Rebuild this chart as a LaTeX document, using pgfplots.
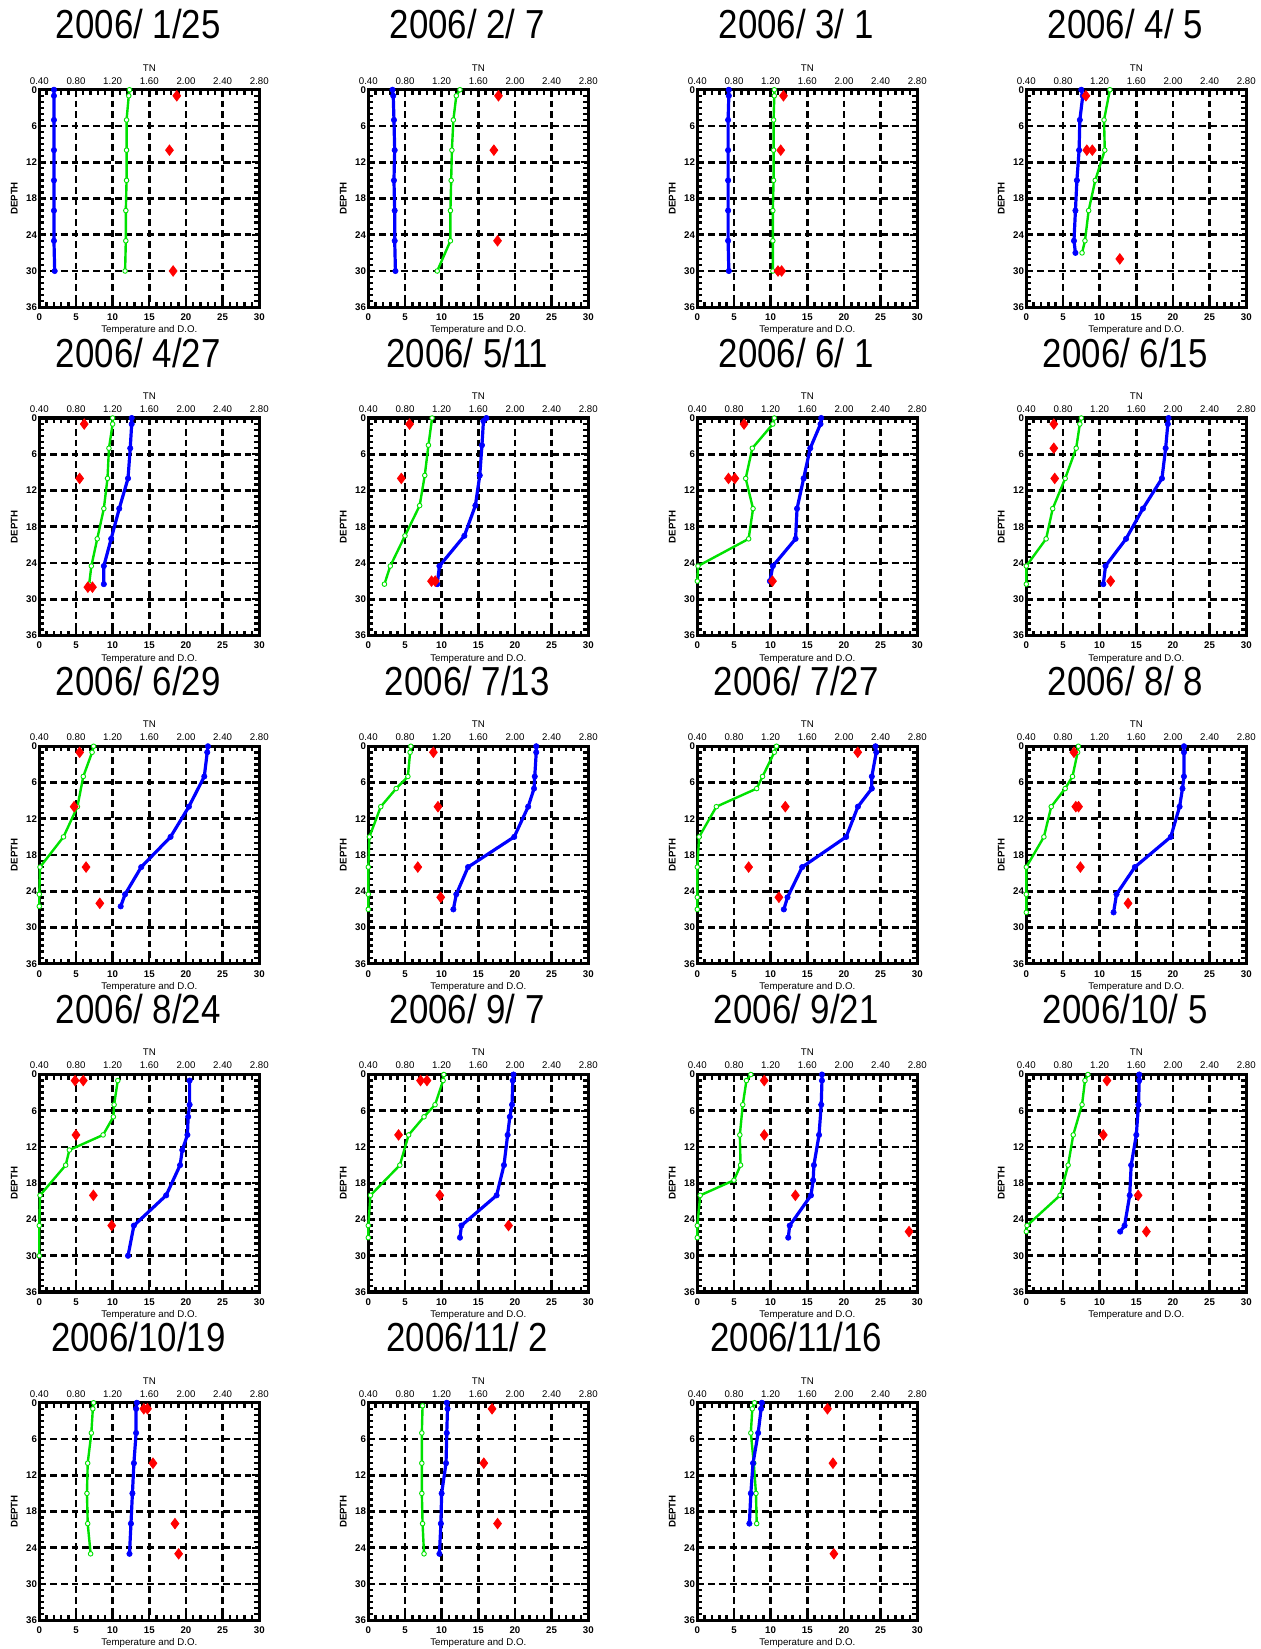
\documentclass[border=0pt]{standalone}
\usepackage{fontspec}
\setmainfont{Liberation Sans}
\newfontfamily\titlefont[FakeStretch=0.86]{Liberation Sans}
\usepackage{pgfplots}
\pgfplotsset{compat=1.18}
\definecolor{lineblue}{RGB}{0,0,255}
\definecolor{linegreen}{RGB}{0,225,0}
\definecolor{markred}{RGB}{255,0,0}
\newcommand{\smallfont}{\fontsize{4.85}{5.8}\selectfont}
\pgfplotsset{
  panelbase/.style={
    scale only axis, width=110pt, height=108.75pt, anchor=north west,
    xmin=0, xmax=30, ymin=0, ymax=36, y dir=reverse, clip=false,
    /pgf/number format/assume math mode=true,
  },
  mainpanel/.style={
    panelbase,
    xtick={0,5,...,30}, ytick={0,6,...,36},
    minor x tick num=4, minor y tick num=5,
    tick pos=both, xticklabel pos=lower, yticklabel pos=left,
    grid=major,
    major grid style={black, line width=1.45pt, dash pattern=on 3.4pt off 2pt},
    axis line style={black, line width=1.6pt},
    tick style={black, line width=1.2pt},
    major tick length=3.5pt, minor tick length=2.5pt,
    tick align=inside,
    xticklabel style={font=\smallfont\bfseries, anchor=center, yshift=-5pt, inner sep=0pt},
    yticklabel style={font=\smallfont\bfseries, anchor=east, xshift=-1pt, inner sep=0pt},
    xlabel={Temperature and D.O.},
    xlabel style={font=\smallfont, at={(axis description cs:0.5,-0.106)}, anchor=center},
    ylabel={DEPTH},
    ylabel style={font=\smallfont\bfseries, at={(axis description cs:-0.114,0.5)}, anchor=center},
    every axis title/.style={font=\titlefont\fontsize{20.25}{24}\selectfont, at={(axis description cs:0.45,1.2345)}, anchor=base},
  },
  tnpanel/.style={
    panelbase,
    xmin=0.4, xmax=2.8,
    xtick={0.4,0.8,1.2,1.6,2.0,2.4,2.8},
    xticklabel pos=upper,
    hide y axis,
    axis line style={draw=none},
    tick style={draw=none},
    major tick length=0pt,
    xticklabel={\pgfmathprintnumber[fixed,fixed zerofill,precision=2]{\tick}},
    xticklabel style={font=\smallfont, anchor=center, yshift=4.5pt, inner sep=0pt},
    xlabel={TN},
    xlabel style={font=\smallfont, at={(axis description cs:0.5,1.101)}, anchor=center},
  },
  blueline/.style={color=lineblue, line width=1.6pt, mark=*, mark size=1.35pt, mark options={solid, fill=lineblue, line width=0.3pt}},
  greenline/.style={color=linegreen, line width=1.2pt, mark=*, mark size=1.15pt, mark options={solid, fill=white, draw=linegreen, line width=0.45pt}},
  redmarks/.style={only marks, mark=diamond*, mark size=2.6pt, color=markred, mark options={fill=markred}},
}
\newcommand{\panel}[6]{%
  \begin{axis}[mainpanel, at={(#1,#2)}, title={#3}]
    \addplot[greenline] coordinates {#5};
    \addplot[blueline] coordinates {#4};
  \end{axis}
  \begin{axis}[tnpanel, at={(#1,#2)}]
    \addplot[redmarks] coordinates {#6};
  \end{axis}}
\begin{document}
\begin{tikzpicture}
\path[use as bounding box] (0,0) rectangle (630pt,-824.5pt);
% Row 1
\panel{19.65pt}{-44.875pt}{2006/ 1/25}
 {(2.0,0)(2.0,1)(2.0,5)(2.0,10)(2.0,15)(2.0,20)(2.0,25)(2.1,30)}
 {(12.3,0)(12.2,1)(11.9,5)(11.9,10)(11.9,15)(11.8,20)(11.8,25)(11.7,30)}
 {(1.90,1)(1.82,10)(1.86,30)}
\panel{184.15pt}{-44.875pt}{2006/ 2/ 7}
 {(3.3,0)(3.4,1)(3.5,5)(3.6,10)(3.5,15)(3.6,20)(3.6,25)(3.7,30)}
 {(12.5,0)(12.0,1)(11.6,5)(11.4,10)(11.3,15)(11.2,20)(11.2,25)(9.4,30)}
 {(1.82,1)(1.77,10)(1.81,25)}
\panel{348.65pt}{-44.875pt}{2006/ 3/ 1}
 {(4.3,0)(4.3,1)(4.2,5)(4.2,10)(4.2,15)(4.2,20)(4.2,25)(4.3,30)}
 {(10.5,0)(10.5,1)(10.4,5)(10.4,10)(10.4,15)(10.3,20)(10.3,25)(10.3,30)}
 {(1.34,1)(1.31,10)(1.28,30)(1.32,30)}
\panel{513.15pt}{-44.875pt}{2006/ 4/ 5}
 {(7.5,0)(7.7,1)(7.3,5)(7.2,10)(6.9,15)(6.7,20)(6.5,25)(6.7,27)}
 {(11.4,0)(10.6,5)(10.7,10)(9.4,15)(8.5,20)(8.0,25)(7.6,27)}
 {(1.05,1)(1.06,10)(1.12,10)(1.42,28)}
% Row 2
\panel{19.65pt}{-209.0pt}{2006/ 4/27}
 {(12.6,0)(12.6,1)(12.4,5)(12.1,10)(10.9,15)(9.8,20)(8.8,24.5)(8.8,27.5)}
 {(10.0,0)(10.0,1)(9.5,5)(9.3,10)(8.8,15)(7.9,20)(7.1,24.5)(6.8,27.5)}
 {(0.89,1)(0.84,10)(0.93,28)(0.98,28)}
\panel{184.15pt}{-209.0pt}{2006/ 5/11}
 {(16.1,0)(15.7,0.5)(15.5,4.5)(15.2,9.5)(14.6,14.5)(13.1,19.5)(9.7,24.5)(9.4,27.5)}
 {(8.7,0)(8.2,4.5)(7.7,9.5)(7.0,14.5)(5.0,19.5)(3.0,24.5)(2.2,27.5)}
 {(0.85,1)(0.76,10)(1.09,27)(1.13,27)}
\panel{348.65pt}{-209.0pt}{2006/ 6/ 1}
 {(16.9,0)(16.8,1)(15.4,5)(14.5,10)(13.6,15)(13.4,20)(10.3,24.5)(9.9,27)}
 {(10.5,0)(10.3,1)(7.5,5)(6.6,10)(7.6,15)(7.0,20)(0.1,24.5)(0,27)}
 {(0.91,1)(0.74,10)(0.81,10)(1.22,27)}
\panel{513.15pt}{-209.0pt}{2006/ 6/15}
 {(19.4,0)(19.3,1)(19.0,5)(18.5,10)(15.9,15)(13.6,20)(10.8,24.5)(10.5,27.5)}
 {(7.5,0)(7.3,1)(6.8,5)(5.3,10)(3.6,15)(2.7,20)(0,24.5)(0,27.5)}
 {(0.70,1)(0.70,5)(0.71,10)(1.32,27)}
% Row 3
\panel{19.65pt}{-373.125pt}{2006/ 6/29}
 {(23.0,0)(22.9,1)(22.5,5)(20.4,10)(17.9,15)(13.9,20)(11.7,24.5)(11.1,26.5)}
 {(7.4,0)(7.2,1)(6.0,5)(5.2,10)(3.3,15)(0.1,20)(0,24.5)(0,26.5)}
 {(0.84,1)(0.78,10)(0.91,20)(1.06,26)}
\panel{184.15pt}{-373.125pt}{2006/ 7/13}
 {(22.9,0)(22.9,1)(22.7,5)(22.6,7)(21.8,10)(19.9,15)(13.6,20)(12.0,24.5)(11.6,27)}
 {(5.8,0)(5.7,1)(5.4,5)(3.8,7)(1.7,10)(0.15,15)(0,20)(0,24.5)(0,27)}
 {(1.11,1)(1.16,10)(0.94,20)(1.19,25)}
\panel{348.65pt}{-373.125pt}{2006/ 7/27}
 {(24.3,0)(24.4,1)(23.8,5)(23.8,7)(21.9,10)(20.3,15)(14.3,20)(12.3,25)(11.8,27)}
 {(10.8,0)(10.5,1)(8.9,5)(8.1,7)(2.6,10)(0.25,15)(0,20)(0,25)(0,27)}
 {(2.15,1)(1.36,10)(0.96,20)(1.29,25)}
\panel{513.15pt}{-373.125pt}{2006/ 8/ 8}
 {(21.5,0)(21.5,1)(21.5,5)(21.3,7)(20.9,10)(19.7,15)(14.8,20)(12.3,24.5)(11.9,27.5)}
 {(7.1,0)(7.0,1)(6.3,5)(5.3,7)(3.4,10)(2.4,15)(0,20)(0,24.5)(0,27.5)}
 {(0.92,1)(0.94,10)(0.97,10)(0.99,20)(1.51,26)}
% Row 4
\panel{19.65pt}{-537.25pt}{2006/ 8/24}
 {(20.5,1)(20.5,5)(20.3,7)(20.2,10)(19.5,12.5)(19.2,15)(17.3,20)(12.9,25)(12.1,30)}
 {(10.7,1)(10.2,5)(10.1,7)(8.7,10)(4.1,12.5)(3.6,15)(0.1,20)(0,25)(0,30)}
 {(0.79,1)(0.88,1)(0.80,10)(0.99,20)(1.19,25)}
\panel{184.15pt}{-537.25pt}{2006/ 9/ 7}
 {(19.8,0)(19.7,1)(19.6,5)(19.3,7)(19.0,10)(18.5,15)(17.5,20)(12.7,25)(12.5,27)}
 {(10.3,0)(10.2,1)(9.1,5)(7.6,7)(5.5,10)(4.3,15)(0.3,20)(0,25)(0,27)}
 {(0.97,1)(1.04,1)(0.73,10)(1.18,20)(1.93,25)}
\panel{348.65pt}{-537.25pt}{2006/ 9/21}
 {(17.0,0)(17.0,1)(16.9,5)(16.6,10)(15.9,15)(15.8,17.5)(15.5,20)(12.6,25)(12.4,27)}
 {(7.3,0)(6.7,1)(6.2,5)(5.8,10)(5.9,15)(5.0,17.5)(0.4,20)(0,25)(0,27)}
 {(1.13,1)(1.13,10)(1.47,20)(2.71,26)}
\panel{513.15pt}{-537.25pt}{2006/10/ 5}
 {(15.4,0)(15.4,1)(15.3,5)(15.0,10)(14.3,15)(14.1,20)(13.4,25)(12.8,26)}
 {(8.4,0)(8.0,1)(7.6,5)(6.4,10)(5.7,15)(4.6,20)(0.1,25)(0,26)}
 {(1.28,1)(1.24,10)(1.62,20)(1.71,26)}
% Row 5
\panel{19.65pt}{-701.375pt}{2006/10/19}
 {(13.3,0)(13.2,1)(13.2,5)(12.9,10)(12.7,15)(12.5,20)(12.3,25)}
 {(7.4,0)(7.3,1)(7.1,5)(6.6,10)(6.5,15)(6.6,20)(7.0,25)}
 {(1.54,1)(1.58,1)(1.64,10)(1.88,20)(1.92,25)}
\panel{184.15pt}{-701.375pt}{2006/11/ 2}
 {(10.7,0)(10.8,1)(10.7,5)(10.6,10)(10.0,15)(9.9,20)(9.7,25)}
 {(7.4,0.5)(7.3,5)(7.3,10)(7.3,15)(7.4,20)(7.6,25)}
 {(1.75,1)(1.66,10)(1.81,20)}
\panel{348.65pt}{-701.375pt}{2006/11/16}
 {(8.8,0)(8.7,1)(8.3,5)(7.6,10)(7.3,15)(7.1,20)}
 {(7.8,0)(7.5,1)(7.3,5)(7.7,10)(8.0,15)(8.1,20)}
 {(1.82,1)(1.88,10)(1.89,25)}
\end{tikzpicture}
\end{document}
